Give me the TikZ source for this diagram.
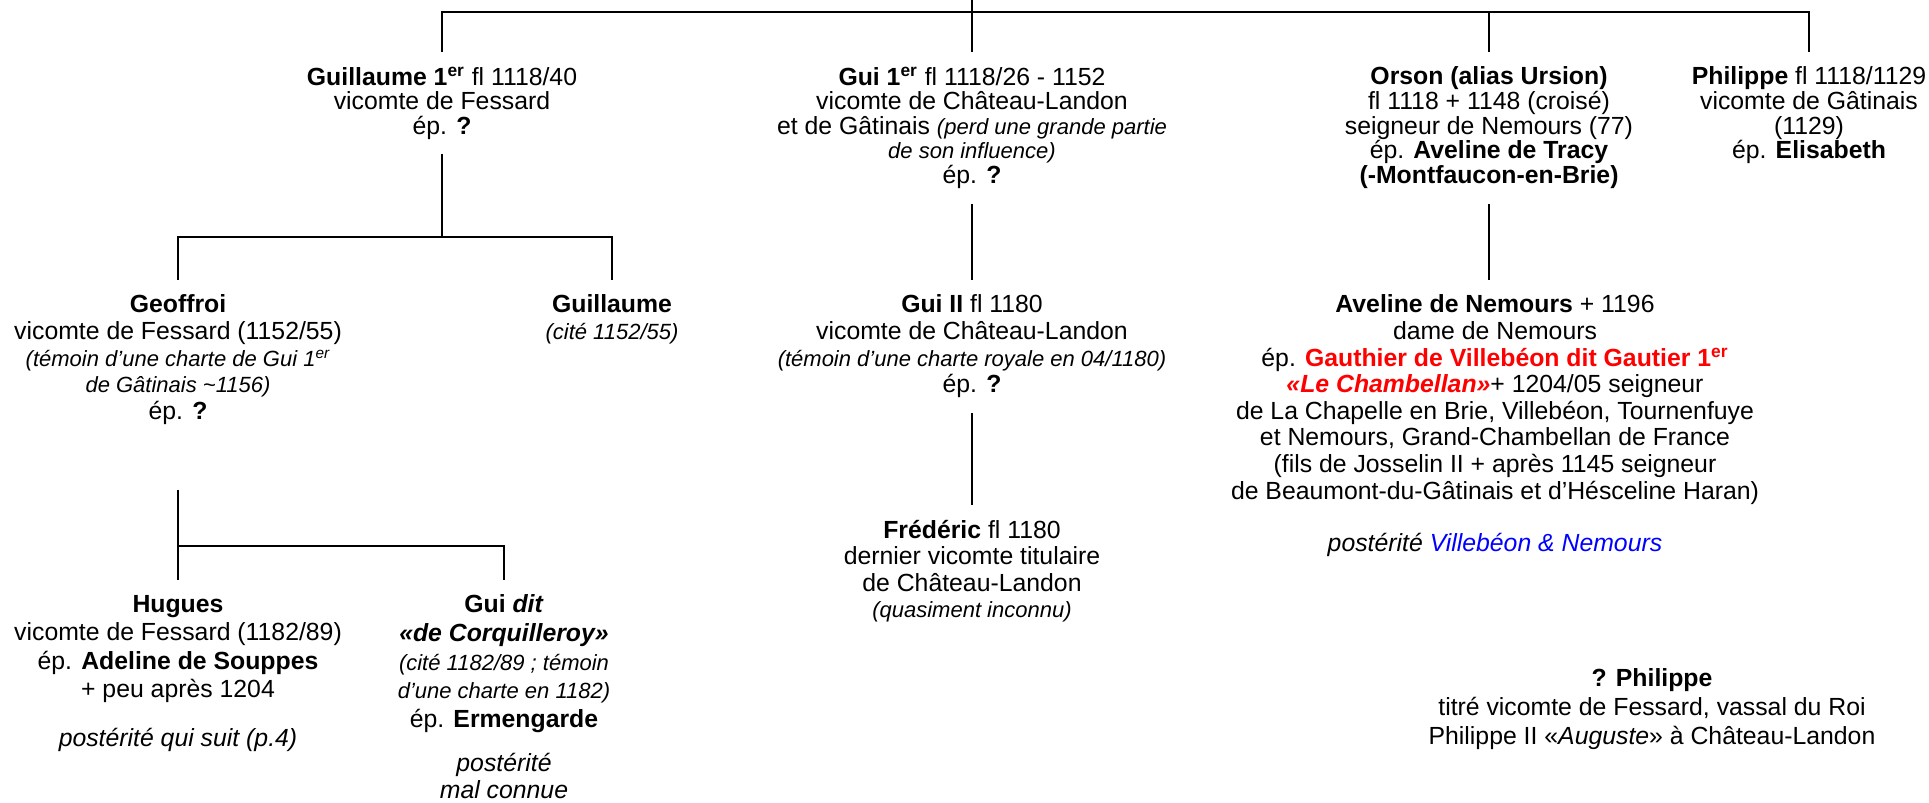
\documentclass[tikz,border=0pt]{standalone}
\usepackage{fontspec}
\setmainfont{Liberation Sans}
\usetikzlibrary{positioning,calc}

\newcommand{\remark}[1]{{\fontsize{11}{13}\selectfont\itshape #1}}
\newcommand{\ier}{1\textsuperscript{er}}
\definecolor{gautred}{RGB}{255,0,0}
\definecolor{postblue}{RGB}{0,0,255}

\tikzset{
  person/.style={align=center, inner sep=0pt, outer sep=7.5pt, anchor=north,
    font=\fontsize{12.4}{13.3}\selectfont},
  toprow/.style={font=\fontsize{12.4}{12.3}\selectfont},
  lowrow/.style={font=\fontsize{12.4}{14.3}\selectfont},
  link/.style={line width=1pt}
}

\begin{document}
\begin{tikzpicture}[x=0.5pt,y=-0.5pt]
\useasboundingbox (0,0) rectangle (1929,803);

% first generation
\node[person,toprow] (guil1) at (442,52) {\textbf{Guillaume \ier} fl 1118/40\\ vicomte de Fessard\\ ép. \textbf{?}};
\node[person,toprow] (gui1) at (972,52) {\textbf{Gui \ier} fl 1118/26 - 1152\\ vicomte de Château-Landon\\
  et de Gâtinais \remark{(perd une grande partie}\\ \remark{de son influence)}\\ ép. \textbf{?}};
\node[person,toprow] (orson) at (1489,52) {\textbf{Orson (alias Ursion)}\\ fl 1118 + 1148 (croisé)\\
  seigneur de Nemours (77)\\ ép. \textbf{Aveline de Tracy}\\ \textbf{(-Montfaucon-en-Brie)}};
\node[person,toprow] (phil) at (1809,52) {\textbf{Philippe} fl 1118/1129\\ vicomte de Gâtinais\\ (1129)\\ ép. \textbf{Elisabeth}};

% second generation
\node[person] (geof) at (178,280) {\textbf{Geoffroi}\\ vicomte de Fessard (1152/55)\\
  \remark{(témoin d’une charte de Gui \ier}\\ \remark{de Gâtinais \textasciitilde1156)}\\ ép. \textbf{?}};
\node[person] (guil2) at (612,280) {\textbf{Guillaume}\\ \remark{(cité 1152/55)}};
\node[person] (gui2) at (972,280) {\textbf{Gui II} fl 1180\\ vicomte de Château-Landon\\
  \remark{(témoin d’une charte royale en 04/1180)}\\ ép. \textbf{?}};
\node[person] (avel) at (1495,280) {\textbf{Aveline de Nemours} + 1196\\ dame de Nemours\\
  ép. \textcolor{gautred}{\textbf{Gauthier de Villebéon dit Gautier \ier}}\\
  \textcolor{gautred}{\textbf{\textit{«Le Chambellan»}}}+ 1204/05 seigneur\\
  de La Chapelle en Brie, Villebéon, Tournenfuye\\ et Nemours, Grand-Chambellan de France\\
  (fils de Josselin II + après 1145 seigneur\\ de Beaumont-du-Gâtinais et d’Hésceline Haran)\\[13pt]
  \textit{postérité \textcolor{postblue}{Villebéon \& Nemours}}};

% third generation
\node[person] (fred) at (972,505) {\textbf{Frédéric} fl 1180\\ dernier vicomte titulaire\\
  de Château-Landon\\ \remark{(quasiment inconnu)}};
\node[person,lowrow] (hugues) at (178,580) {\textbf{Hugues}\\ vicomte de Fessard (1182/89)\\
  ép. \textbf{Adeline de Souppes}\\ + peu après 1204\\[10pt] \textit{postérité qui suit (p.4)}};
\node[person,lowrow] (guidit) at (504,580) {\textbf{Gui \textit{dit}}\\ \textbf{\textit{«de Corquilleroy»}}\\
  \remark{(cité 1182/89 ; témoin}\\ \remark{d’une charte en 1182)}\\ ép. \textbf{Ermengarde}\\[8pt]
  \textit{postérité}\\[-1pt] \textit{mal connue}};
\node[person,lowrow] (philq) at (1652,654) {\textbf{? Philippe}\\ titré vicomte de Fessard, vassal du Roi\\
  Philippe II «\textit{Auguste}» à Château-Landon};

% links
\coordinate (root) at (972,0);
\coordinate (bar) at (972,12);
\coordinate (gsplit) at (442,237);
\coordinate (gdrop) at (178,490);
\coordinate (hsplit) at (178,546);

\draw[link] (root) -- (bar);
\draw[link] (guil1.north) |- (bar) -| (phil.north);
\draw[link] (gui1.north) -- (gui1.north |- bar);
\draw[link] (orson.north) -- (orson.north |- bar);
\draw[link] (guil1.south) -- (guil1.south |- gsplit);
\draw[link] (geof.north) |- (guil2.north |- gsplit) -- (guil2.north);
\draw[link] (gui1.south) -- (gui2.north);
\draw[link] (gui2.south) -- (fred.north);
\draw[link] (orson.south) -- (orson.south |- avel.north);
\draw[link] (gdrop) -- (hugues.north);
\draw[link] (hsplit) -| (guidit.north);
\end{tikzpicture}
\end{document}
